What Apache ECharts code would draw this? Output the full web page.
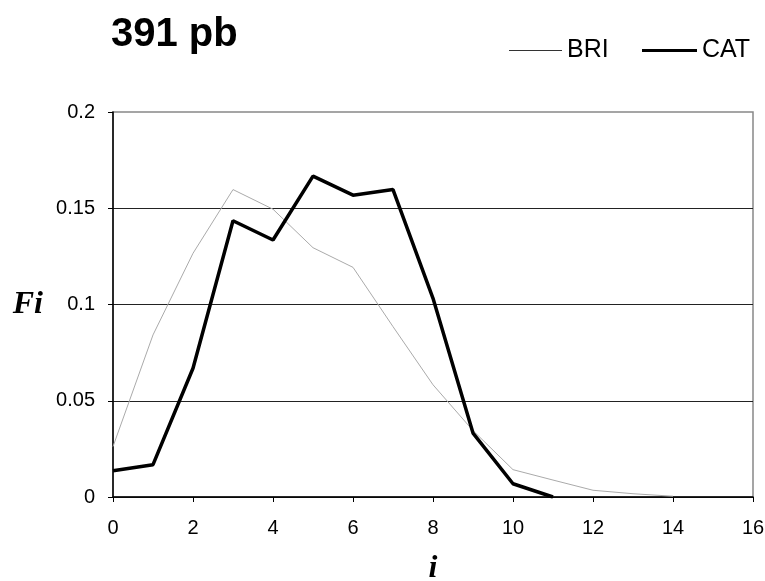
<!DOCTYPE html>
<html>
<head>
<meta charset="utf-8">
<script src="https://cdn.jsdelivr.net/npm/echarts@6/dist/echarts.min.js"></script>
<style>
  html, body { margin: 0; padding: 0; background: #fff; }
  #chart { width: 765px; height: 581px; }
</style>
</head>
<body>
<div id="chart"></div>
<script>
// Frequency Fi per class i for the two populations
const xTicks = [0, 2, 4, 6, 8, 10, 12, 14, 16];
const yTicks = [0, 0.05, 0.1, 0.15, 0.2];
const briValues = [0.0262, 0.0842, 0.1266, 0.1597, 0.1495, 0.1295, 0.1193, 0.0885,
                   0.0583, 0.0345, 0.0142, 0.0088, 0.0035, 0.0017, 0.0004];
const catValues = [0.0136, 0.0168, 0.0669, 0.1435, 0.1335, 0.1667, 0.1568, 0.1597,
                   0.1032, 0.0332, 0.0069, 0];

const briColor = '#aaa';
const catColor = '#000';

const toPoints = vals => vals.map((v, i) => [i, v]);

const sans = 'Liberation Sans, Arial, sans-serif';
const serif = 'Liberation Serif, Times New Roman, serif';

const legendText = { fontFamily: sans, fontSize: 25, color: '#000' };

const chart = echarts.init(document.getElementById('chart'), null, { renderer: 'canvas' });
chart.setOption({
  animation: false,
  backgroundColor: '#fff',
  title: {
    text: '391 pb',
    left: 111,
    top: 15,
    padding: 0,
    textStyle: { fontFamily: sans, fontWeight: 'bold', fontSize: 40, color: '#000' }
  },
  // one legend per series so each key line gets its own thickness
  legend: [
    {
      data: ['BRI'],
      left: 509, top: 38, padding: 0,
      icon: 'rect', itemWidth: 53, itemHeight: 1.2, itemGap: 5,
      itemStyle: { color: '#333' },
      textStyle: legendText
    },
    {
      data: ['CAT'],
      left: 642, top: 38, padding: 0,
      icon: 'rect', itemWidth: 55, itemHeight: 3, itemGap: 5,
      itemStyle: { color: catColor },
      textStyle: legendText
    }
  ],
  grid: {
    left: 113, right: 12, top: 112, bottom: 84,
    outerBoundsMode: 'none',
    containLabel: false,
    show: true, borderColor: '#888', borderWidth: 1.5, backgroundColor: '#fff'
  },
  xAxis: {
    type: 'value',
    min: xTicks[0],
    max: xTicks[xTicks.length - 1],
    interval: xTicks[1] - xTicks[0],
    name: 'i',
    nameLocation: 'middle',
    nameGap: 56,
    nameTextStyle: { fontFamily: serif, fontStyle: 'italic', fontWeight: 'bold', fontSize: 32, color: '#000' },
    axisLine: { lineStyle: { color: '#000', width: 1.5 } },
    axisTick: { inside: false, length: 5, lineStyle: { color: '#000', width: 1 } },
    axisLabel: { margin: 21, fontFamily: sans, fontSize: 20, color: '#000' },
    splitLine: { show: false }
  },
  yAxis: {
    type: 'value',
    min: yTicks[0],
    max: yTicks[yTicks.length - 1],
    interval: yTicks[1] - yTicks[0],
    name: 'Fi',
    nameLocation: 'middle',
    nameRotate: 0,
    nameGap: 70,
    nameTextStyle: { fontFamily: serif, fontStyle: 'italic', fontWeight: 'bold', fontSize: 32, color: '#000' },
    axisLine: { show: true, lineStyle: { color: '#000', width: 1.5 } },
    axisTick: { show: true, inside: false, length: 5, lineStyle: { color: '#000', width: 1 } },
    axisLabel: { margin: 18, fontFamily: sans, fontSize: 20, color: '#000',
                 formatter: v => String(+v.toFixed(2)) },
    splitLine: { show: true, showMaxLine: false, lineStyle: { color: '#222', width: 1 } }
  },
  series: [
    {
      name: 'BRI',
      type: 'line',
      data: toPoints(briValues),
      symbol: 'none',
      lineStyle: { color: briColor, width: 1 },
      itemStyle: { color: briColor },
      z: 3
    },
    {
      name: 'CAT',
      type: 'line',
      data: toPoints(catValues),
      symbol: 'none',
      lineStyle: { color: catColor, width: 3.5 },
      itemStyle: { color: catColor },
      z: 4
    }
  ]
});
</script>
</body>
</html>
